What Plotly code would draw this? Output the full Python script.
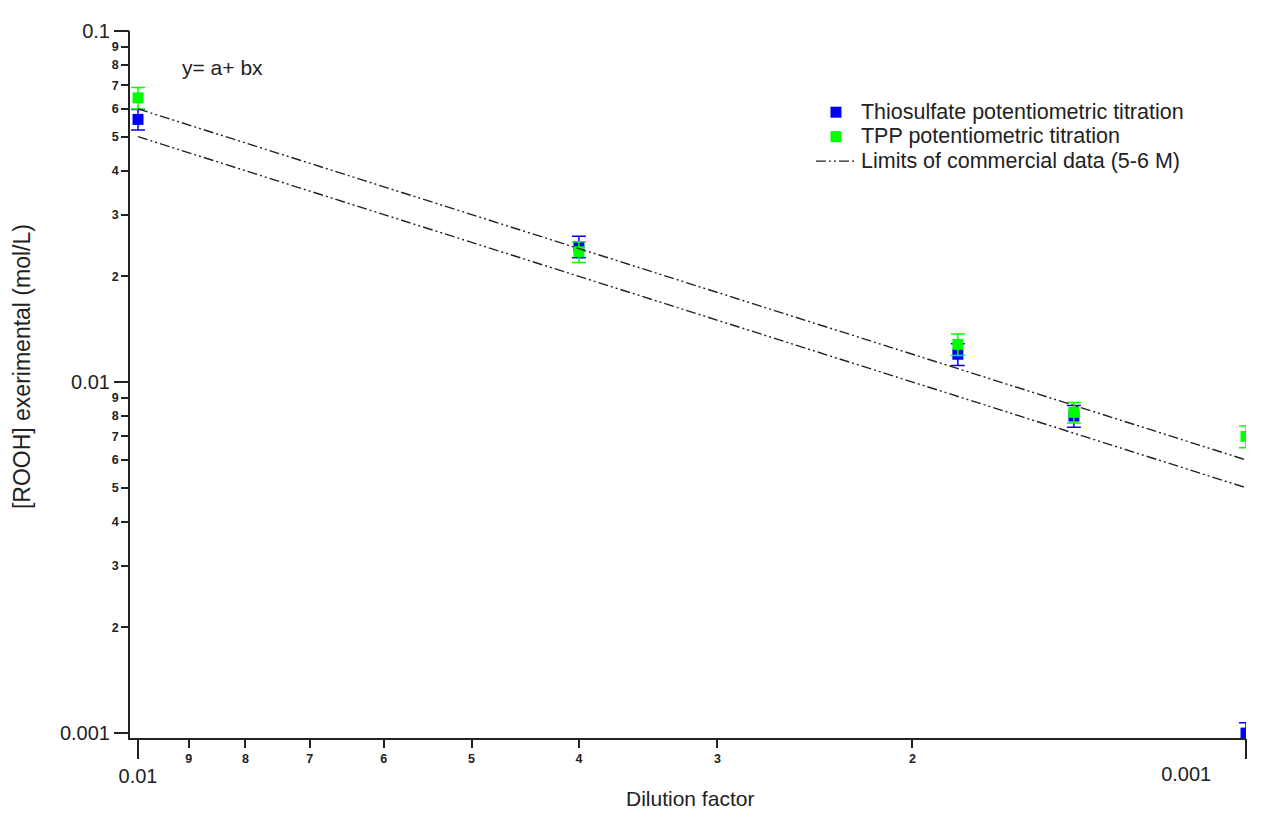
import plotly.graph_objects as go

# ---- data ----
dilution = [0.01, 0.004, 0.00182, 0.00143, 0.001]
thio_y = [0.056, 0.0243, 0.0120, 0.0080, 0.001]
thio_err = [0.0038, 0.0017, 0.00085, 0.00057, 0.00007]
tpp_y = [0.0645, 0.0235, 0.0128, 0.0082, 0.0070]
tpp_err = [0.0045, 0.0016, 0.0009, 0.00055, 0.0005]

limit_x = [0.01, 0.001]
limit_upper = [0.06, 0.006]
limit_lower = [0.05, 0.005]

x_minor_vals = [d * 1e-3 for d in range(2, 10)]
x_minor_text = [str(d) for d in range(2, 10)]
x_left_vals, x_left_text = [0.01], ["0.01"]
x_right_vals, x_right_text = [0.001], ["0.001"]
y_minor_vals = [d * m for m in (1e-3, 1e-2) for d in range(2, 10)]
y_minor_text = [str(d) for m in (1e-3, 1e-2) for d in range(2, 10)]
y_major_vals = [0.1, 0.01, 0.001]
y_major_text = ["0.1", "0.01", "0.001"]

FONT = "Liberation Sans, Arial, sans-serif"
XR = [-1.99277, -3.0]
YR = [-3.014, -1.0]
dash = "10px,3px,2px,3px,2px,3px"


def leg(t):
    return '<span style="font-size:21.5px">' + t + '</span>'


fig = go.Figure()
fig.add_trace(go.Scatter(
    x=dilution, y=thio_y, mode="markers", name=leg("Thiosulfate potentiometric titration"),
    marker=dict(symbol="square", size=11, color="#0000ff"),
    error_y=dict(type="data", array=thio_err, visible=True, color="#0000ff", thickness=1.5, width=7),
))
fig.add_trace(go.Scatter(
    x=dilution, y=tpp_y, mode="markers", name=leg("TPP potentiometric titration"),
    marker=dict(symbol="square", size=11, color="#00ff00"),
    error_y=dict(type="data", array=tpp_err, visible=True, color="#00ff00", thickness=1.5, width=7),
))
fig.add_trace(go.Scatter(
    x=limit_x, y=limit_upper, mode="lines", name=leg("Limits of commercial data (5-6 M)"),
    line=dict(color="#222222", width=1.4, dash=dash), xaxis="x2", yaxis="y2",
))
fig.add_trace(go.Scatter(
    x=limit_x, y=limit_lower, mode="lines", showlegend=False,
    line=dict(color="#222222", width=1.4, dash=dash), xaxis="x3", yaxis="y2",
))

common = dict(type="log", showgrid=False, zeroline=False, ticks="outside",
              tickcolor="#222", tickwidth=1.5)
fig.update_layout(
    width=1259, height=801,
    paper_bgcolor="white", plot_bgcolor="white",
    margin=dict(l=122, r=21, t=14, b=71),
    font=dict(family=FONT, color="#222", size=20),
    showlegend=True,
    legend=dict(x=0.6102, y=0.9095, xanchor="left", yanchor="top",
                font=dict(size=16.5, family=FONT, color="#222"),
                bgcolor="rgba(0,0,0,0)", tracegroupgap=0, itemwidth=40),
    xaxis=dict(**common, range=XR, tickvals=x_minor_vals, ticktext=x_minor_text,
               ticklen=8, showline=True, linecolor="#222", linewidth=1.5,
               tickfont=dict(size=12.5, family=FONT, weight="bold", color="#222")),
    yaxis=dict(**common, range=YR, tickvals=y_minor_vals, ticktext=y_minor_text,
               ticklen=7, showline=True, linecolor="#222", linewidth=1.5,
               tickfont=dict(size=12.5, family=FONT, weight="bold", color="#222")),
    xaxis2=dict(**common, range=XR, overlaying="x", side="bottom", anchor="y2",
                tickvals=x_left_vals, ticktext=x_left_text, ticklen=20, showline=False,
                tickfont=dict(size=20, family=FONT, color="#222")),
    xaxis3=dict(**common, range=XR, overlaying="x", side="bottom", anchor="y2",
                tickvals=x_right_vals, ticktext=x_right_text, ticklen=20, showline=False,
                ticklabelposition="outside left", ticklabelshift=34, ticklabelstandoff=18,
                tickfont=dict(size=20, family=FONT, color="#222")),
    yaxis2=dict(**common, range=YR, overlaying="y", side="left", tickvals=y_major_vals,
                ticktext=y_major_text, ticklen=15, showline=False,
                tickfont=dict(size=20, family=FONT, color="#222")),
    annotations=[
        dict(text="y= a+ bx", x=0.0448, y=0.9485, xref="paper", yref="paper",
             xanchor="left", yanchor="middle", showarrow=False, font=dict(size=21)),
        dict(text="Dilution factor", x=0.502, y=-0.085, xref="paper", yref="paper",
             xanchor="center", yanchor="middle", showarrow=False, font=dict(size=21)),
        dict(text="[ROOH] exerimental (mol/L)", x=-0.0968, y=0.526, xref="paper", yref="paper",
             xanchor="center", yanchor="middle", textangle=-90, showarrow=False, font=dict(size=23)),
    ],
)

fig.write_html("out.html")
